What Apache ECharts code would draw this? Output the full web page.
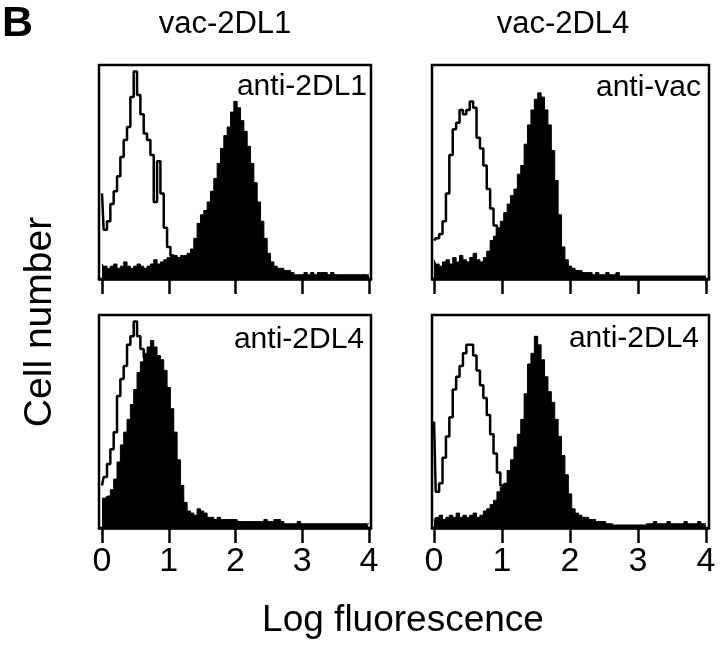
<!DOCTYPE html>
<html>
<head>
<meta charset="utf-8">
<script src="https://cdn.jsdelivr.net/npm/echarts@6/dist/echarts.min.js"></script>
<style>
html,body{margin:0;padding:0;background:#fff;}
#chart{width:720px;height:646px;}
</style>
</head>
<body>
<div id="chart"></div>
<script>
// Bin centres on the log-fluorescence scale (0.05 decade per channel)
const BIN_STEP = 0.05;
const bins = Array.from({length: 81}, (_, i) => +(i * BIN_STEP).toFixed(2));
const tickValues = [0, 1, 2, 3, 4];
const tickLabels = ['0', '1', '2', '3', '4'];

const columnTitles = ['vac-2DL1', 'vac-2DL4'];
const panelLabels = ['anti-2DL1', 'anti-vac', 'anti-2DL4', 'anti-2DL4'];

// Cell number (% of panel height) per bin
// Top-left: vac-2DL1 / anti-2DL1
const tlOpen = [40,23,27,35,41,48,57,65,71,85,97,86,77,68,65,58,36,55,40,24,15,11,10,7,5,4,3,3,2,2,
  1,1,1,1,1,1,1,1,1,1,1,1,1,1,1,1,1,1,1,1,1,1,1,1,1,1,1,1,1,1,1,1,1,1,1,1,1,1,1,1,1,1,1,1,1,1,1,1,1,1,1];
const tlFill = [7,6,5,6,7,5,6,8,6,5,6,7,6,5,6,7,9,7,8,9,
  10,11,11,10,11,11,12,14,
  19,26,30,32,36,41,47,54,61,67,71,78,83,
  80,74,69,62,54,45,36,27,19,12,8,6,
  5,5,4,4,3,2,2,2,3,2,3,2,3,3,3,2,3,2,2,2,2,2,2,2,2,2,2,2];
// Top-right: vac-2DL4 / anti-vac
const trOpen = [18,19,21,27,40,58,70,73,79,77,79,83,80,66,61,53,42,33,25,20,12,8,6,5,4,3,3,2,2,2,
  1,1,1,1,1,1,1,1,1,1,1,1,1,1,1,1,1,1,1,1,1,1,1,1,1,1,1,1,1,1,1,1,1,1,1,1,1,1,1,1,1,1,1,1,1,1,1,1,1,1,1];
const trFill = [9,7,6,8,9,7,10,8,11,9,8,10,12,9,8,10,
  13,18,20,24,27,31,35,39,42,49,53,63,72,79,84,87,85,79,72,60,46,30,15,9,6,
  5,4,4,3,3,3,2,3,2,2,3,2,2,3,
  1,1,1,1,1,1,1,1,1,1,1,1,1,1,1,1,1,1,1,1,1,1,1,1,1,1];
// Bottom-left: vac-2DL1 / anti-2DL4
const blOpen = [20,24,30,37,45,62,70,76,86,90,97,90,84,80,72,62,52,42,32,24,16,10,6,4,3,2,2,
  1,1,1,1,1,1,1,1,1,1,1,1,1,1,1,1,1,1,1,1,1,1,1,1,1,1,1,1,1,1,1,1,1,1,1,1,1,1,1,1,1,1,1,1,1,1,1,1,1,1,1];
const blFill = [14,14,15,18,23,31,39,45,51,58,65,73,78,82,85,88,85,81,79,74,66,56,45,32,20,12,8,7,6,9,8,7,5,5,4,5,4,4,4,4,4,
  3,3,3,3,3,3,3,3,4,3,3,4,4,3,2,2,2,2,3,2,
  2,2,2,2,2,2,2,2,2,2,2,2,2,2,2,2,2,2,2,2];
// Bottom-right: vac-2DL4 / anti-2DL4
const brOpen = [50,17,21,33,43,52,65,71,76,82,86,86,81,74,67,61,53,44,35,26,20,14,10,7,5,4,3,3,2,2,
  1,1,1,1,1,1,1,1,1,1,1,1,1,1,1,1,1,1,1,1,1,1,1,1,1,1,1,1,1,1,1,1,1,1,1,1,1,1,1,1,1,1,1,1,1,1,1,1,1,1,1];
const brFill = [4,5,6,4,5,6,5,7,5,6,5,6,7,5,6,8,
  9,11,13,17,19,21,27,32,38,44,51,63,77,82,90,86,79,71,64,59,51,43,34,25,16,9,7,
  6,5,5,4,4,3,3,3,2,2,1,1,1,1,1,1,1,1,1,1,
  2,2,3,2,2,2,3,2,2,2,2,3,2,2,2,3,2,2];

const FONT = '"Liberation Sans", Arial, Helvetica, sans-serif';
const chart = echarts.init(document.getElementById('chart'), null, {renderer: 'canvas'});

const panels = [
  {grid: {left: 99, top: 65, width: 272, height: 214}, min: -0.045, max: 4.03, open: tlOpen, fill: tlFill, labels: false},
  {grid: {left: 432, top: 65, width: 277, height: 214}, min: -0.03, max: 4.044, open: trOpen, fill: trFill, labels: false},
  {grid: {left: 99, top: 315, width: 272, height: 213}, min: -0.045, max: 4.03, open: blOpen, fill: blFill, labels: true},
  {grid: {left: 432, top: 315, width: 277, height: 213}, min: -0.03, max: 4.044, open: brOpen, fill: brFill, labels: true}
];

const grids = [], xAxes = [], yAxes = [], series = [];
panels.forEach((p, k) => {
  grids.push(Object.assign({show: true, borderColor: '#000', borderWidth: 2.5, backgroundColor: '#fff'}, p.grid));
  xAxes.push({
    type: 'value', gridIndex: k, min: p.min, max: p.max,
    axisLine: {show: true, onZero: false, lineStyle: {color: '#000', width: 2.5}},
    axisTick: {show: true, customValues: tickValues, length: 15, inside: false, lineStyle: {color: '#000', width: 2.5}},
    axisLabel: {show: p.labels, customValues: tickValues, formatter: v => tickLabels[tickValues.indexOf(v)] || '',
      color: '#000', fontFamily: FONT, fontSize: 34, margin: 17},
    splitLine: {show: false}
  });
  yAxes.push({type: 'value', gridIndex: k, min: 0, max: 100, show: false, splitLine: {show: false}});
  series.push({
    type: 'line', xAxisIndex: k, yAxisIndex: k, step: 'middle', showSymbol: false, silent: true,
    data: bins.map((b, i) => [b, p.fill[i]]),
    lineStyle: {color: '#000', width: 1}, areaStyle: {color: '#000', opacity: 1}, z: 2
  });
  series.push({
    type: 'line', xAxisIndex: k, yAxisIndex: k, step: 'middle', showSymbol: false, silent: true,
    data: bins.map((b, i) => [b, p.open[i]]),
    lineStyle: {color: '#000', width: 2.5}, z: 3
  });
});

const txt = (x, y, text, size, align, extra) => Object.assign({
  type: 'text', x: x, y: y, silent: true,
  style: {text: text, fill: '#000', font: size + 'px ' + FONT, align: align, verticalAlign: 'middle'}
}, extra || {});

chart.setOption({
  animation: false,
  backgroundColor: '#fff',
  grid: grids, xAxis: xAxes, yAxis: yAxes, series: series,
  graphic: [
    {type: 'text', x: 2, y: 24, silent: true, style: {text: 'B', fill: '#000', font: 'bold 43px ' + FONT, align: 'left', verticalAlign: 'middle'}},
    txt(225, 24, columnTitles[0], 31, 'center'),
    txt(563, 24, columnTitles[1], 31, 'center'),
    txt(367, 87, panelLabels[0], 30, 'right'),
    txt(701, 88, panelLabels[1], 30, 'right'),
    txt(364, 340, panelLabels[2], 30, 'right'),
    txt(699, 339, panelLabels[3], 30, 'right'),
    txt(403, 621, 'Log fluorescence', 37, 'center'),
    {type: 'text', x: 40, y: 322, rotation: Math.PI / 2, silent: true,
      style: {text: 'Cell number', fill: '#000', font: '39px ' + FONT, align: 'center', verticalAlign: 'middle'}}
  ]
});
</script>
</body>
</html>
